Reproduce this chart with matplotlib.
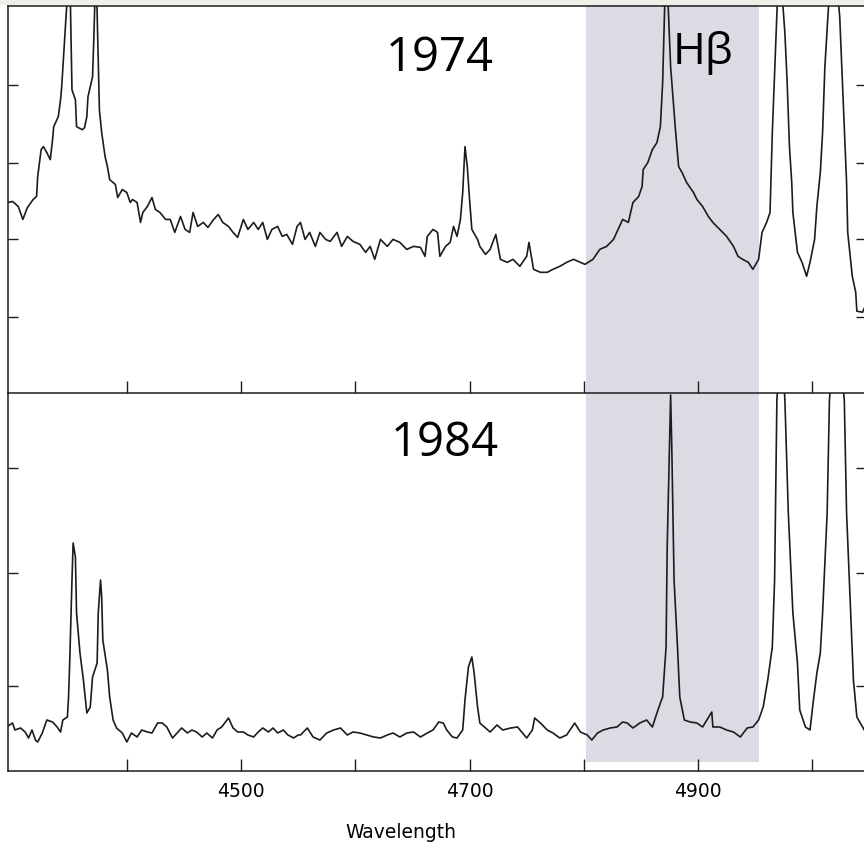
import matplotlib
matplotlib.use("Agg")
import matplotlib.pyplot as plt
import matplotlib.transforms as mtransforms
from matplotlib.patches import Rectangle

# 1974 spectrum (wavelength in Angstrom, flux in arbitrary units)
wl_1974 = [4296, 4300, 4305, 4309, 4313, 4318, 4321, 4322, 4325, 4327, 4330, 4333, 4335, 4336,
           4340, 4342, 4343, 4345, 4347, 4350, 4352, 4355, 4356, 4361, 4363, 4365, 4366, 4370,
           4371, 4373, 4376, 4378, 4381, 4383, 4385, 4390, 4392, 4396, 4400, 4403, 4405, 4409,
           4412, 4414, 4418, 4422, 4425, 4429, 4434, 4438, 4442, 4447, 4451, 4455, 4458, 4462,
           4467, 4471, 4476, 4480, 4484, 4489, 4493, 4497, 4502, 4506, 4511, 4515, 4519, 4523,
           4527, 4532, 4536, 4540, 4545, 4549, 4552, 4556, 4560, 4565, 4569, 4574, 4578, 4584,
           4588, 4593, 4598, 4604, 4609, 4613, 4617, 4622, 4628, 4633, 4639, 4645, 4651, 4657,
           4661, 4663, 4668, 4672, 4674, 4679, 4683, 4686, 4689, 4692, 4694, 4696, 4698, 4700,
           4702, 4707, 4709, 4714, 4718, 4723, 4727, 4733, 4738, 4744, 4750, 4752, 4756, 4762,
           4768, 4773, 4779, 4785, 4791, 4797, 4801, 4808, 4814, 4820, 4826, 4830, 4834, 4839,
           4843, 4848, 4851, 4852, 4856, 4860, 4864, 4867, 4869, 4872, 4876, 4880, 4883, 4886,
           4890, 4896, 4899, 4904, 4909, 4913, 4919, 4925, 4931, 4935, 4939, 4944, 4948, 4953,
           4956, 4960, 4963, 4965, 4971, 4976, 4978, 4980, 4982, 4983, 4987, 4991, 4995, 4998,
           5002, 5004, 5007, 5009, 5011, 5018, 5024, 5027, 5030, 5031, 5035, 5038, 5039, 5044,
           5047]
flux_1974 = [191, 192, 187, 174, 186, 194, 197, 217, 244, 247, 241, 234, 254, 267,
             277, 294, 307, 344, 381, 430, 304, 294, 267, 264, 266, 277, 297, 317,
             351, 430, 284, 261, 237, 227, 214, 209, 196, 204, 201, 191, 194, 191,
             171, 181, 187, 196, 184, 181, 174, 174, 161, 177, 164, 161, 181, 167,
             171, 166, 174, 179, 171, 167, 161, 156, 174, 164, 171, 164, 171, 154,
             164, 167, 157, 159, 149, 167, 171, 154, 161, 147, 161, 154, 152, 161,
             147, 157, 152, 149, 141, 147, 134, 154, 147, 154, 151, 144, 147, 146,
             137, 157, 164, 161, 137, 147, 151, 167, 157, 174, 201, 247, 227, 194,
             164, 154, 147, 139, 144, 159, 134, 131, 134, 127, 137, 151, 124, 121,
             121, 124, 127, 131, 134, 131, 129, 134, 144, 147, 154, 164, 174, 171,
             191, 197, 207, 224, 231, 244, 251, 267, 311, 440, 327, 267, 227, 221,
             211, 201, 194, 187, 177, 171, 164, 157, 147, 137, 134, 131, 124, 134,
             161, 171, 181, 261, 440, 361, 311, 247, 211, 181, 141, 131, 117, 131,
             154, 187, 221, 261, 327, 460, 377, 294, 211, 161, 117, 101, 82, 81,
             89]

# 1984 spectrum
wl_1984 = [4296, 4300, 4302, 4307, 4311, 4314, 4317, 4320, 4322, 4326, 4330, 4335, 4339, 4342,
           4344, 4348, 4349, 4350, 4352, 4353, 4355, 4356, 4359, 4362, 4365, 4368, 4370, 4374,
           4375, 4377, 4378, 4379, 4383, 4385, 4388, 4391, 4396, 4400, 4404, 4409, 4413, 4418,
           4422, 4427, 4431, 4435, 4440, 4444, 4448, 4453, 4457, 4461, 4466, 4470, 4475, 4479,
           4483, 4489, 4493, 4497, 4502, 4506, 4511, 4515, 4519, 4524, 4528, 4532, 4537, 4541,
           4546, 4550, 4552, 4558, 4563, 4569, 4575, 4581, 4587, 4593, 4598, 4604, 4610, 4616,
           4622, 4628, 4633, 4639, 4645, 4651, 4657, 4663, 4668, 4673, 4677, 4680, 4685, 4689,
           4694, 4696, 4699, 4702, 4704, 4707, 4709, 4714, 4718, 4724, 4729, 4736, 4742, 4750,
           4755, 4757, 4762, 4768, 4773, 4779, 4785, 4792, 4797, 4803, 4807, 4812, 4817, 4823,
           4829, 4834, 4838, 4843, 4849, 4855, 4860, 4864, 4867, 4869, 4872, 4873, 4875, 4876,
           4877, 4879, 4882, 4884, 4888, 4893, 4899, 4904, 4912, 4913, 4919, 4925, 4931, 4937,
           4943, 4948, 4953, 4957, 4961, 4965, 4967, 4969, 4973, 4976, 4979, 4983, 4987, 4989,
           4994, 4998, 5001, 5004, 5007, 5009, 5013, 5015, 5021, 5028, 5030, 5033, 5036, 5039,
           5042, 5047]
flux_1984 = [45, 48, 41, 43, 39, 33, 41, 31, 29, 38, 51, 49, 44, 39,
             51, 54, 74, 108, 191, 228, 214, 158, 118, 91, 58, 64, 94, 108,
             158, 191, 174, 131, 101, 74, 51, 43, 38, 29, 38, 34, 41, 39,
             38, 48, 48, 44, 33, 38, 43, 38, 41, 39, 34, 38, 33, 41,
             44, 53, 43, 39, 39, 36, 34, 39, 43, 39, 43, 38, 41, 36,
             33, 36, 36, 43, 34, 31, 38, 41, 43, 36, 39, 38, 36, 34,
             33, 36, 38, 34, 38, 39, 34, 38, 41, 49, 48, 41, 34, 33,
             41, 71, 104, 114, 98, 64, 48, 43, 39, 46, 41, 43, 44, 33,
             41, 53, 48, 41, 38, 33, 36, 48, 39, 36, 31, 38, 41, 43,
             44, 49, 48, 43, 48, 51, 44, 58, 68, 74, 124, 224, 324, 376,
             324, 191, 124, 74, 51, 49, 48, 44, 59, 44, 44, 41, 39, 34,
             43, 44, 51, 64, 91, 124, 191, 371, 440, 371, 258, 158, 108, 61,
             44, 41, 71, 98, 118, 158, 258, 371, 460, 371, 258, 174, 91, 54,
             48, 38]

x_ticks = [4400, 4500, 4600, 4700, 4800, 4900, 5000]
x_tick_labels = ["", "4500", "", "4700", "", "4900", ""]
y_ticks_1974 = [76, 154, 231, 309]
y_ticks_1984 = [85, 198, 303]
hbeta_band = (4802, 4953)

W, H = 864, 846
fig = plt.figure(figsize=(W / 100, H / 100), dpi=100)
ink = "#1c1c1c"

# light strip at the very top of the scan
fig.patches.append(Rectangle((0, (H - 5) / H), 1, 5 / H, transform=fig.transFigure,
                             facecolor="#efefea", edgecolor="none", zorder=-2))

ax1 = fig.add_axes([8 / W, (H - 393) / H, 858 / W, 387 / H])
ax2 = fig.add_axes([8 / W, (H - 771) / H, 858 / W, 378 / H])

for ax, wl, fl, yt, ymax in [(ax1, wl_1974, flux_1974, y_ticks_1974, 388),
                             (ax2, wl_1984, flux_1984, y_ticks_1984, 378)]:
    ax.set_facecolor("none")
    ax.plot(wl, fl, color=ink, lw=1.2)
    ax.set_xlim(4296, 5047)
    ax.set_ylim(0, ymax)
    ax.set_yticks(yt)
    ax.tick_params(axis="y", which="both", direction="in", left=True, right=True,
                   labelleft=False, length=7, width=1.0, color=ink)
    ax.tick_params(axis="x", direction="in", length=8.5, width=1.0, color=ink)
    for s in ax.spines.values():
        s.set_linewidth(1.1)
        s.set_color(ink)
    ax.spines["right"].set_visible(False)

ax1.set_xticks(x_ticks)
ax1.tick_params(axis="x", labelbottom=False)
ax2.spines["top"].set_visible(False)
ax2.set_xticks(x_ticks, labels=x_tick_labels)
ax2.tick_params(axis="x", pad=8, labelsize=13.5)

# shaded H-beta window spanning both panels
trans = mtransforms.blended_transform_factory(ax1.transData, fig.transFigure)
fig.patches.append(Rectangle((hbeta_band[0], (H - 762) / H), hbeta_band[1] - hbeta_band[0],
                             (762 - 5) / H, transform=trans, facecolor="#dddae4",
                             edgecolor="none", zorder=-1))

txt = dict(family="Open Sans", color="black", ha="center", va="center")
fig.text(440 / W, (H - 58) / H, "1974", fontsize=34, **txt)
fig.text(445 / W, (H - 443) / H, "1984", fontsize=34, **txt)
fig.text(703 / W, (H - 53) / H, "Hβ", fontsize=32, **txt)
fig.text(401 / W, (H - 832) / H, "Wavelength", fontsize=13.5, ha="center", va="center")

fig.savefig("out.png", dpi=100)
